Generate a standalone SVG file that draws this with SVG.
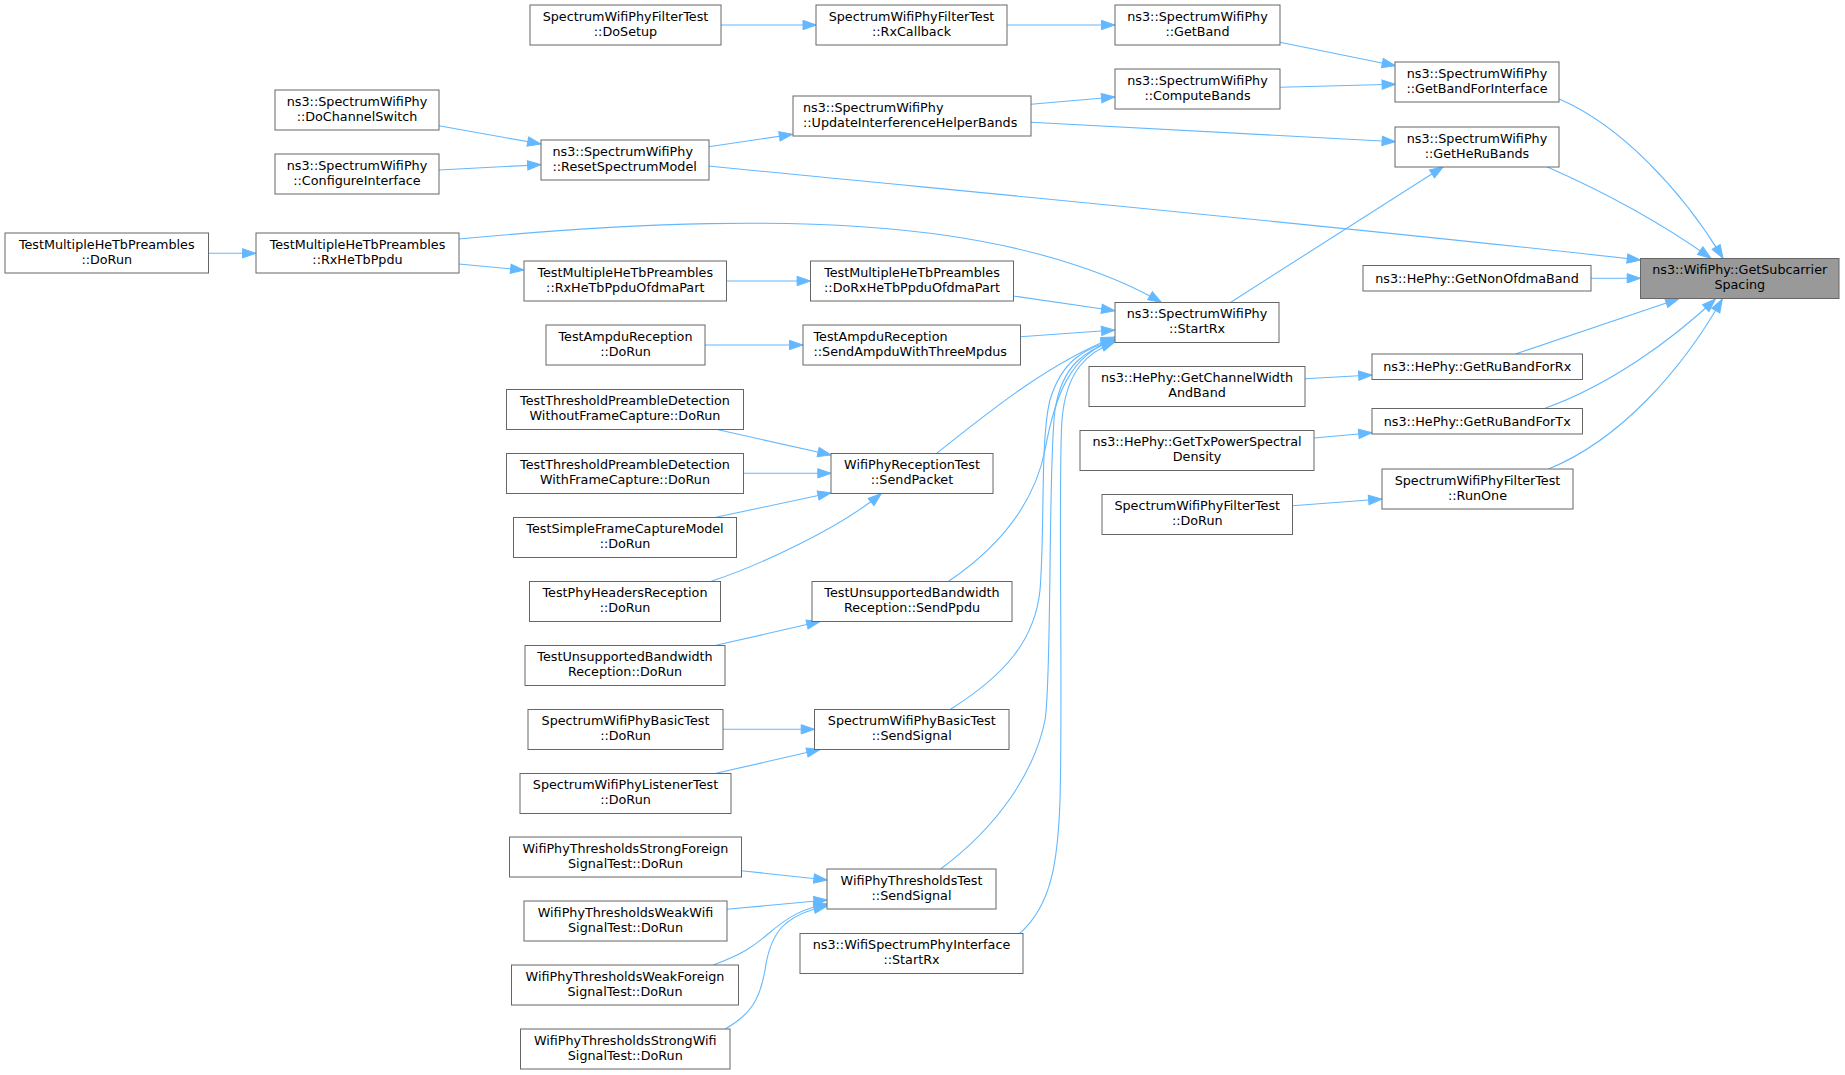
<svg xmlns="http://www.w3.org/2000/svg" width="1845" height="1075" viewBox="0 0 1845 1075">
<style>
.node rect{fill:#ffffff;stroke:#666666;stroke-width:1}
.node.hl rect{fill:#999999}
text{font-family:"DejaVu Sans","Liberation Sans",sans-serif;font-size:12.75px;fill:#000000;text-anchor:middle}
text.l{text-anchor:start}
#edges path{fill:none;stroke:#63b8ff;stroke-width:1.1;marker-end:url(#arr)}
</style>
<defs>
<marker id="arr" markerUnits="userSpaceOnUse" markerWidth="14" markerHeight="10" refX="13.3" refY="4.67" orient="auto" overflow="visible">
<path d="M0,0 L13.3,4.67 L0,9.33 Z" fill="#63b8ff" stroke="#63b8ff" stroke-width="1"/>
</marker>
</defs>
<rect x="0" y="0" width="1845" height="1075" fill="#ffffff"/>
<g id="edges">
<path d="M720.6,25 L816.3,25"/>
<path d="M1007.3,25 L1114.8,25"/>
<path d="M1279.8,42.3 L1395.4,65.7"/>
<path d="M1279.8,87.3 L1395.4,84.3"/>
<path d="M1559.2,99 C1620,125 1682,190 1723,258.3"/>
<path d="M1031,104.3 L1114.8,97"/>
<path d="M1031,122.3 L1395.4,141.7"/>
<path d="M1546.8,166.7 C1600,190 1660,222 1711,258.3"/>
<path d="M438.9,125.7 L540.9,144"/>
<path d="M438.9,170 L540.9,164.7"/>
<path d="M708.7,146.7 L792.6,134.3"/>
<path d="M708.7,166 C950,190 1300,222 1640.5,260"/>
<path d="M1230,302.7 L1443.2,166.7"/>
<path d="M1591,278.3 L1640.5,278.3"/>
<path d="M1515.5,354 L1678.9,298.7"/>
<path d="M1545,408.3 C1610,385 1672,340 1715.4,299"/>
<path d="M1548.5,469 C1620,440 1682,370 1722.3,299"/>
<path d="M1305.2,378.7 L1372,375"/>
<path d="M1314.2,438 L1372,432.7"/>
<path d="M1292.5,505.7 L1381.9,499"/>
<path d="M208.4,253.3 L255.8,253.3"/>
<path d="M458.7,239 C620,224 800,214 950,236 C1050,251 1120,278 1161.5,302.5"/>
<path d="M458.7,264 L523.9,270"/>
<path d="M726.5,281 L810.4,281"/>
<path d="M1013.2,296 L1114.8,310.7"/>
<path d="M704.8,345 L802.8,345"/>
<path d="M1020.3,336.7 L1114.8,330"/>
<path d="M936.7,453.3 C985,415 1045,365 1114.8,337"/>
<path d="M948.6,581.3 C1005,543 1035,500 1045,450 C1055,395 1070,355 1114.8,339"/>
<path d="M950.5,709.3 C1005,675 1035,640 1040,590 C1045,530 1040,440 1050,400 C1062,360 1085,348 1114.8,340"/>
<path d="M940.6,869 C1000,825 1035,770 1045,720 C1052,680 1048,460 1055,410 C1062,365 1085,350 1114.8,341"/>
<path d="M1019.7,933.3 C1052,905 1058,860 1060,800 C1063,700 1058,470 1062,420 C1066,370 1088,352 1114.8,342"/>
<path d="M716,429.3 L831.1,455"/>
<path d="M743.7,473.3 L831.1,473.3"/>
<path d="M716,517.3 L831.1,492.7"/>
<path d="M711.3,581.3 C760,565 840,528 881.3,493.5"/>
<path d="M716,645.3 L820,621.5"/>
<path d="M722.8,729.3 L814.5,729.3"/>
<path d="M716,773.3 L820,749.5"/>
<path d="M741.4,870.7 L827.2,880"/>
<path d="M726.7,909.3 L827.2,900"/>
<path d="M713.3,965 C740,955 752,948 768,934 C790,915 805,908 827.2,904"/>
<path d="M725.2,1029 C750,1015 760,1000 765,970 C770,935 782,915 827.2,906"/>
</g>
<g id="n1" class="node"><rect x="530" y="5" width="191" height="40"/><text x="625.5" y="20.8">SpectrumWifiPhyFilterTest</text><text x="625.5" y="35.8">::DoSetup</text></g>
<g id="n2" class="node"><rect x="816" y="5" width="191" height="40"/><text x="911.5" y="20.8">SpectrumWifiPhyFilterTest</text><text x="911.5" y="35.8">::RxCallback</text></g>
<g id="n3" class="node"><rect x="1115" y="5" width="165" height="40"/><text x="1197.5" y="20.8">ns3::SpectrumWifiPhy</text><text x="1197.5" y="35.8">::GetBand</text></g>
<g id="n4" class="node"><rect x="1115" y="69" width="165" height="40"/><text x="1197.5" y="84.8">ns3::SpectrumWifiPhy</text><text x="1197.5" y="99.8">::ComputeBands</text></g>
<g id="n5" class="node"><rect x="1395" y="62" width="164" height="40"/><text x="1477" y="77.8">ns3::SpectrumWifiPhy</text><text x="1477" y="92.8">::GetBandForInterface</text></g>
<g id="n6" class="node"><rect x="1395" y="127" width="164" height="40"/><text x="1477" y="142.8">ns3::SpectrumWifiPhy</text><text x="1477" y="157.8">::GetHeRuBands</text></g>
<g id="n7" class="node"><rect x="793" y="96" width="238" height="40"/><text class="l" x="803" y="111.8">ns3::SpectrumWifiPhy</text><text class="l" x="803" y="126.8">::UpdateInterferenceHelperBands</text></g>
<g id="n8" class="node"><rect x="275" y="90" width="164" height="40"/><text x="357" y="105.8">ns3::SpectrumWifiPhy</text><text x="357" y="120.8">::DoChannelSwitch</text></g>
<g id="n9" class="node"><rect x="275" y="154" width="164" height="40"/><text x="357" y="169.8">ns3::SpectrumWifiPhy</text><text x="357" y="184.8">::ConfigureInterface</text></g>
<g id="n10" class="node"><rect x="541" y="140" width="168" height="40"/><text class="l" x="552.5" y="155.8">ns3::SpectrumWifiPhy</text><text class="l" x="552.5" y="170.8">::ResetSpectrumModel</text></g>
<g id="n11" class="node hl"><rect x="1640.5" y="258.5" width="198.5" height="40"/><text x="1739.75" y="274.3">ns3::WifiPhy::GetSubcarrier</text><text x="1739.75" y="289.3">Spacing</text></g>
<g id="n12" class="node"><rect x="1363" y="265.5" width="228" height="25.5"/><text x="1477" y="282.5">ns3::HePhy::GetNonOfdmaBand</text></g>
<g id="n13" class="node"><rect x="5" y="233" width="203.5" height="40"/><text x="106.75" y="248.8">TestMultipleHeTbPreambles</text><text x="106.75" y="263.8">::DoRun</text></g>
<g id="n14" class="node"><rect x="256" y="233" width="203" height="40"/><text x="357.5" y="248.8">TestMultipleHeTbPreambles</text><text x="357.5" y="263.8">::RxHeTbPpdu</text></g>
<g id="n15" class="node"><rect x="524" y="261" width="202.5" height="40"/><text x="625.25" y="276.8">TestMultipleHeTbPreambles</text><text x="625.25" y="291.8">::RxHeTbPpduOfdmaPart</text></g>
<g id="n16" class="node"><rect x="810.5" y="261" width="203" height="40"/><text x="912" y="276.8">TestMultipleHeTbPreambles</text><text x="912" y="291.8">::DoRxHeTbPpduOfdmaPart</text></g>
<g id="n17" class="node"><rect x="1115" y="302.5" width="164" height="40"/><text x="1197" y="318.3">ns3::SpectrumWifiPhy</text><text x="1197" y="333.3">::StartRx</text></g>
<g id="n18" class="node"><rect x="546" y="325" width="159" height="40"/><text x="625.5" y="340.8">TestAmpduReception</text><text x="625.5" y="355.8">::DoRun</text></g>
<g id="n19" class="node"><rect x="803" y="325" width="217.5" height="40"/><text class="l" x="813.5" y="340.8">TestAmpduReception</text><text class="l" x="813.5" y="355.8">::SendAmpduWithThreeMpdus</text></g>
<g id="n20" class="node"><rect x="1089" y="366.5" width="216" height="40"/><text x="1197" y="382.3">ns3::HePhy::GetChannelWidth</text><text x="1197" y="397.3">AndBand</text></g>
<g id="n21" class="node"><rect x="1372" y="354" width="210.5" height="25.5"/><text x="1477.25" y="371">ns3::HePhy::GetRuBandForRx</text></g>
<g id="n22" class="node"><rect x="1372" y="408.5" width="210.5" height="25.5"/><text x="1477.25" y="425.5">ns3::HePhy::GetRuBandForTx</text></g>
<g id="n23" class="node"><rect x="1080" y="430.5" width="234" height="40"/><text x="1197" y="446.3">ns3::HePhy::GetTxPowerSpectral</text><text x="1197" y="461.3">Density</text></g>
<g id="n24" class="node"><rect x="1382" y="469" width="191" height="40"/><text x="1477.5" y="484.8">SpectrumWifiPhyFilterTest</text><text x="1477.5" y="499.8">::RunOne</text></g>
<g id="n25" class="node"><rect x="1102" y="494.5" width="190.5" height="40"/><text x="1197.25" y="510.3">SpectrumWifiPhyFilterTest</text><text x="1197.25" y="525.3">::DoRun</text></g>
<g id="n26" class="node"><rect x="506.5" y="389.5" width="237" height="40"/><text x="625" y="405.3">TestThresholdPreambleDetection</text><text x="625" y="420.3">WithoutFrameCapture::DoRun</text></g>
<g id="n27" class="node"><rect x="506.5" y="453.5" width="237" height="40"/><text x="625" y="469.3">TestThresholdPreambleDetection</text><text x="625" y="484.3">WithFrameCapture::DoRun</text></g>
<g id="n28" class="node"><rect x="513.5" y="517.5" width="223" height="40"/><text x="625" y="533.3">TestSimpleFrameCaptureModel</text><text x="625" y="548.3">::DoRun</text></g>
<g id="n29" class="node"><rect x="529.5" y="581.5" width="191" height="40"/><text x="625" y="597.3">TestPhyHeadersReception</text><text x="625" y="612.3">::DoRun</text></g>
<g id="n30" class="node"><rect x="525" y="645.5" width="200" height="40"/><text x="625" y="661.3">TestUnsupportedBandwidth</text><text x="625" y="676.3">Reception::DoRun</text></g>
<g id="n31" class="node"><rect x="831" y="453.5" width="162" height="40"/><text x="912" y="469.3">WifiPhyReceptionTest</text><text x="912" y="484.3">::SendPacket</text></g>
<g id="n32" class="node"><rect x="812" y="581.5" width="200" height="40"/><text x="912" y="597.3">TestUnsupportedBandwidth</text><text x="912" y="612.3">Reception::SendPpdu</text></g>
<g id="n33" class="node"><rect x="528" y="709.5" width="195" height="40"/><text x="625.5" y="725.3">SpectrumWifiPhyBasicTest</text><text x="625.5" y="740.3">::DoRun</text></g>
<g id="n34" class="node"><rect x="520" y="773.5" width="211" height="40"/><text x="625.5" y="789.3">SpectrumWifiPhyListenerTest</text><text x="625.5" y="804.3">::DoRun</text></g>
<g id="n35" class="node"><rect x="509.5" y="837" width="232" height="40"/><text x="625.5" y="852.8">WifiPhyThresholdsStrongForeign</text><text x="625.5" y="867.8">SignalTest::DoRun</text></g>
<g id="n36" class="node"><rect x="524" y="901" width="203" height="40"/><text x="625.5" y="916.8">WifiPhyThresholdsWeakWifi</text><text x="625.5" y="931.8">SignalTest::DoRun</text></g>
<g id="n37" class="node"><rect x="511.5" y="965" width="227" height="40"/><text x="625" y="980.8">WifiPhyThresholdsWeakForeign</text><text x="625" y="995.8">SignalTest::DoRun</text></g>
<g id="n38" class="node"><rect x="520.5" y="1029" width="209.5" height="40"/><text x="625.25" y="1044.8">WifiPhyThresholdsStrongWifi</text><text x="625.25" y="1059.8">SignalTest::DoRun</text></g>
<g id="n39" class="node"><rect x="814.5" y="709.5" width="194.5" height="40"/><text x="911.75" y="725.3">SpectrumWifiPhyBasicTest</text><text x="911.75" y="740.3">::SendSignal</text></g>
<g id="n40" class="node"><rect x="827" y="869" width="169" height="40"/><text x="911.5" y="884.8">WifiPhyThresholdsTest</text><text x="911.5" y="899.8">::SendSignal</text></g>
<g id="n41" class="node"><rect x="800" y="933.5" width="223" height="40"/><text x="911.5" y="949.3">ns3::WifiSpectrumPhyInterface</text><text x="911.5" y="964.3">::StartRx</text></g>
</svg>
